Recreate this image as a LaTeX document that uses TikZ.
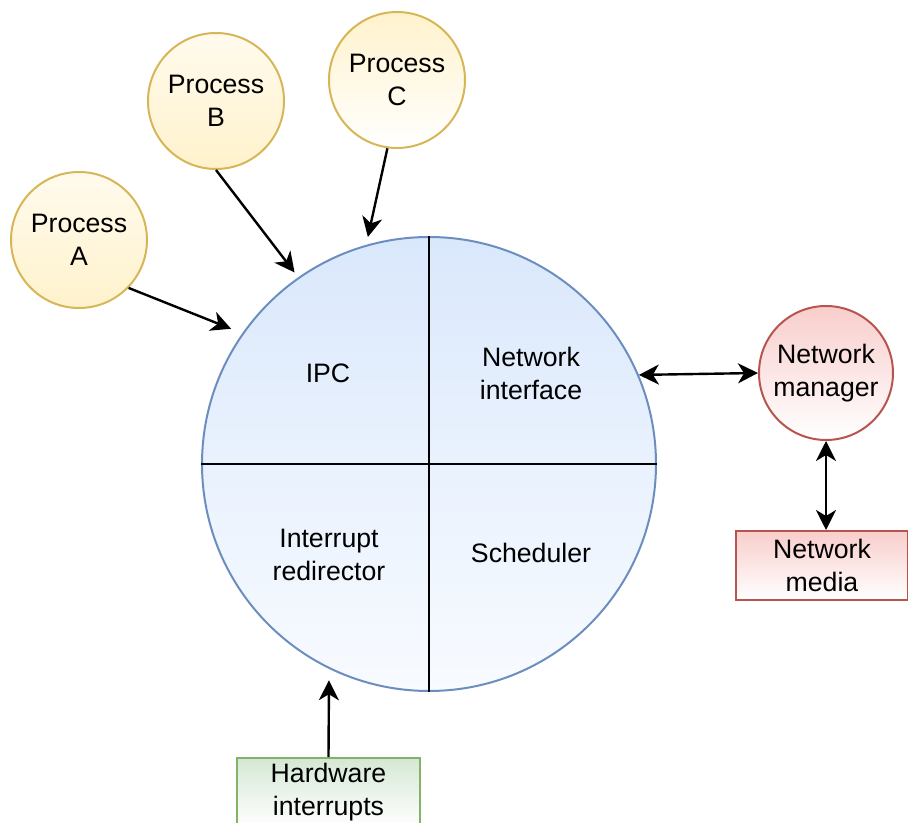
\documentclass[tikz,border=0pt]{standalone}
\usepackage{fontspec}
\setmainfont{Liberation Sans}
\usetikzlibrary{arrows.meta}

\definecolor{coreLine}{HTML}{6C8EBF}
\definecolor{coreTop}{HTML}{DAE8FC}
\definecolor{coreBot}{HTML}{F8FBFF}
\definecolor{procLine}{HTML}{D6B656}
\definecolor{procFill}{HTML}{FFF2CC}
\definecolor{netLine}{HTML}{B85450}
\definecolor{netFill}{HTML}{F8CECC}
\definecolor{hwLine}{HTML}{82B366}
\definecolor{hwFill}{HTML}{D5E8D4}

\tikzset{every picture/.style={line width=1.5pt}}
\tikzset{
  proc/.style={circle, draw=procLine, minimum size=102pt, inner sep=0pt, align=center},
  netcirc/.style={circle, draw=netLine, top color=netFill, bottom color=white, minimum size=100.5pt, inner sep=0pt, align=center},
  box/.style={rectangle, minimum height=51.75pt, inner sep=0pt, align=center},
  link/.style={line width=1.8pt, -{Stealth[length=15pt,width=15pt,inset=4.5pt]}},
  bilink/.style={line width=1.8pt, {Stealth[length=15pt,width=15pt,inset=4.5pt]}-{Stealth[length=15pt,width=15pt,inset=4.5pt]}}
}

\begin{document}
\begin{tikzpicture}[x=0.75pt,y=0.75pt,yscale=-1,xscale=1,font=\fontsize{20}{24.75}\selectfont]
\useasboundingbox (0,0) rectangle (908,823);

%Shape: Circle [core]
\node (core) [circle, draw=coreLine, top color=coreTop, bottom color=coreBot, minimum size=340.5pt, inner sep=0pt] at (429,464) {};
%Straight Lines [quadrants]
\draw (core.north) -- (core.south);
\draw (core.west) -- (core.east);

% Text Node
\node (ipc) at (328,373) {IPC};
% Text Node
\node (netif) [align=center] at (531,373) {Network\\interface};
% Text Node
\node (intr) [align=center] at (329,555) {Interrupt\\redirector};
% Text Node
\node (sched) at (531,553) {Scheduler};

%Shape: Circle [processes]
\node (procA) [proc, top color=procFill!35, bottom color=procFill] at (79,240) {Process\\A};
\node (procB) [proc, top color=procFill!35, bottom color=procFill] at (216,101) {Process\\B};
\node (procC) [proc, top color=procFill, bottom color=white] at (397,80) {Process\\C};

%Shape: Circle [manager]
\node (netmgr) [netcirc] at (826,373) {Network\\manager};

%Shape: Rectangle [media, hardware]
\node (media) [box, minimum width=129pt, draw=netLine, top color=netFill, bottom color=white] at (822,565.5) {Network\\media};
\node (hw) [box, minimum width=137.25pt, draw=hwLine, top color=hwFill, bottom color=white] at (328.5,792.5) {Hardware\\interrupts};

%Straight Lines [arrows]
\draw [link, shorten >=9pt] (procA.-44) -- (core.145);
\draw [link, shorten >=4.5pt] (procB.south) -- (core.125);
\draw [link, shorten >=6pt] (procC.-98) -- (core.106);
\draw [bilink] (core.23.6) -- (netmgr.west);
\draw [bilink] (netmgr.south) -- (netmgr.south |- media.north);
\draw [link, shorten >=8.5pt] (hw.north) -- (core.244);

\end{tikzpicture}
\end{document}
